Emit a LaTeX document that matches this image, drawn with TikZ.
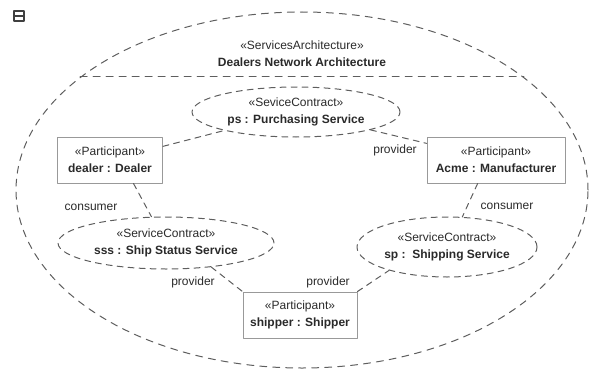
\documentclass[tikz,border=0pt]{standalone}
\usepackage{fontspec}
\setmainfont{Liberation Sans}
\usetikzlibrary{shapes.geometric}
\definecolor{dashgray}{HTML}{5E5E5E}
\definecolor{txtgray}{HTML}{2A2A2A}
\tikzset{
	contract/.style={ellipse, draw=dashgray, line width=1pt, dash pattern=on 6pt off 5pt, inner sep=0pt, align=center, text=txtgray},
	part/.style={rectangle, draw=black!40, line width=1pt, inner sep=0pt, align=center, text=txtgray},
	link/.style={draw=dashgray, line width=1pt, dash pattern=on 6pt off 5pt},
	role/.style={text=txtgray, inner sep=1pt}
}
\begin{document}
\begin{tikzpicture}[x=1pt, y=-1pt, font=\fontsize{12}{17}\selectfont, line join=round, line cap=round]
			\useasboundingbox (0,0) rectangle (591,369);
			% Biểu tượng góc
			\draw[line width=1.6pt, black!75] (14,11) rectangle (24,21);
			\draw[line width=1.6pt, black!75] (14,16) -- (24,16);
			% Khung kiến trúc
			\node[contract, dash pattern=on 7pt off 6pt, minimum width=572, minimum height=356] (arch) at (302,190) {};
			\draw[link, dash pattern=on 7pt off 6pt] (arch.153) -- (arch.27);
			\node[align=center, text=txtgray] (title) at (302,54) {«ServicesArchitecture»\\\textbf{Dealers Network Architecture}};
			% Các hợp đồng dịch vụ
			\node[contract, minimum width=208, minimum height=50] (ps) at (296,112) {«SeviceContract»\\\textbf{ps : Purchasing Service}};
			\node[contract, minimum width=216, minimum height=52] (sss) at (166,243) {«ServiceContract»\\\textbf{sss : Ship Status Service}};
			\node[contract, minimum width=180, minimum height=60] (sp) at (447,247) {«ServiceContract»\\\textbf{sp :\ \ Shipping Service}};
			% Các bên tham gia
			\node[part, minimum width=105, minimum height=46] (dealer) at (110,160) {«Participant»\\\textbf{dealer : Dealer}};
			\node[part, minimum width=138, minimum height=46] (acme) at (496,160) {«Participant»\\\textbf{Acme : Manufacturer}};
			\node[part, minimum width=114, minimum height=46] (shipper) at (300,315) {«Participant»\\\textbf{shipper : Shipper}};
			% Liên kết
			\draw[link] (dealer) -- (ps);
			\draw[link] (ps) -- (acme);
			\draw[link] (dealer.-45) -- (sss.119);
			\draw[link] (acme.-128) -- (sp.63);
			\draw[link] (sss.-28) -- (shipper.north west);
			\draw[link] (shipper.north east) -- (sp.202);
			% Vai trò
			\node[role] (roleA) at (395,150) {provider};
			\node[role] (roleB) at (91,207) {consumer};
			\node[role] (roleC) at (507,206) {consumer};
			\node[role] (roleD) at (193,282) {provider};
			\node[role] (roleE) at (328,282) {provider};
		\end{tikzpicture}
\end{document}
